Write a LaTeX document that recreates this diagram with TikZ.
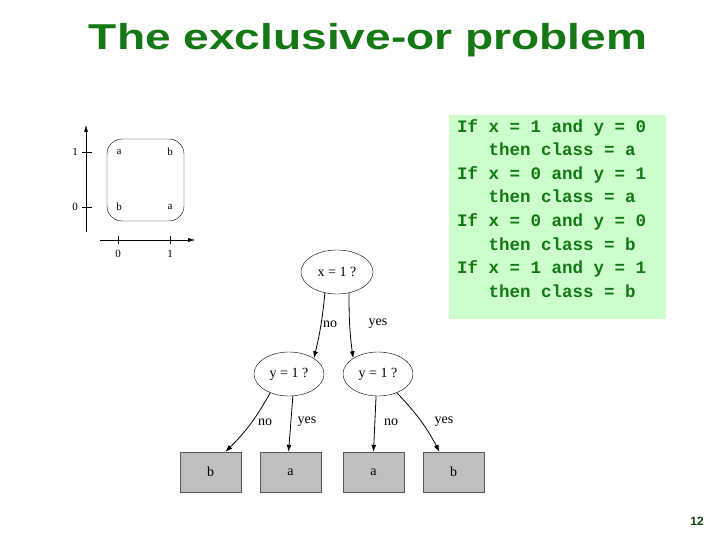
\documentclass[tikz,border=0pt]{standalone}
\usepackage{fontspec}
\setmainfont{Liberation Serif}
\newfontfamily\titlefont{Liberation Sans}
\newfontfamily\codefont{Liberation Mono}
\usetikzlibrary{shapes.geometric,arrows.meta}
\definecolor{tgreen}{RGB}{20,120,20}
\definecolor{boxgreen}{RGB}{204,255,204}
\begin{document}
\begin{tikzpicture}[x=1pt,y=-1pt,
  q/.style={draw,ellipse,minimum width=72pt,minimum height=44pt,inner sep=0pt,font=\fontsize{14}{14}\selectfont},
  leaf/.style={draw=gray!70!black,fill=gray!50,minimum width=61pt,minimum height=40pt,inner sep=0pt,font=\fontsize{14}{14}\selectfont},
  lab/.style={font=\fontsize{14}{14}\selectfont},
  sm/.style={font=\fontsize{11}{11}\selectfont},
  arr/.style={-{Latex[length=7pt,width=5pt]},thick}]
\useasboundingbox (0,0) rectangle (720,540);
\node[font=\titlefont\bfseries\fontsize{36}{36}\selectfont,text=tgreen,xscale=1.28] (title) at (368,40) {The exclusive-or problem};
% rules box
\node[fill=boxgreen,minimum width=217pt,minimum height=204pt,inner sep=0pt] (rules) at (557.5,217) {};
\node[anchor=north west,align=left,text=tgreen,font=\codefont\bfseries\fontsize{17.5}{23.6}\selectfont,inner sep=0pt] (rtext) at (457,119) {If x = 1 and y = 0\\\ \ \ then class = a\\If x = 0 and y = 1\\\ \ \ then class = a\\If x = 0 and y = 0\\\ \ \ then class = b\\If x = 1 and y = 1\\\ \ \ then class = b};
% small plot
\coordinate (ya) at (86,232); \coordinate (yb) at (86,125);
\coordinate (xa) at (100,240); \coordinate (xb) at (195,240);
\draw[-{Latex[length=7pt,width=4pt]}] (ya) -- (yb);
\draw[-{Latex[length=7pt,width=4pt]}] (xa) -- (xb);
\draw (82,152) -- (92,152) (82,207) -- (92,207) (118,236) -- (118,244) (170,236) -- (170,244);
\node[sm] (l1) at (75,152) {1}; \node[sm] (l0) at (75,207) {0};
\node[sm] (m0) at (118,254) {0}; \node[sm] (m1) at (170,254) {1};
\draw[rounded corners=15pt] (107,139) rectangle (184,221);
\node[sm] (p1) at (119,152) {a}; \node[sm] (p2) at (170,152) {b};
\node[sm] (p3) at (119,207) {b}; \node[sm] (p4) at (170,207) {a};
% tree
\node[q] (r) at (337,272) {x = 1 ?};
\node[q,minimum width=70pt] (l) at (289,374) {y = 1 ?};
\node[q,minimum width=70pt] (rr) at (378,374) {y = 1 ?};
\node[leaf] (b1) at (210.5,472) {b};
\node[leaf] (a1) at (290.5,472) {a};
\node[leaf] (a2) at (373.5,472) {a};
\node[leaf] (b2) at (453.5,472) {b};
\draw[arr] (r.240) to[bend left=4] (l.north east);
\draw[arr] (r.300) to[bend right=4] (rr.north west);
\draw[arr] (l.225) to[bend left=8] ([xshift=15pt]b1.north);
\draw[arr] (l.280) -- ([xshift=-2pt]a1.north);
\draw[arr] (rr.265) -- (a2.north);
\draw[arr] (rr.315) to[bend left=8] ([xshift=-14pt]b2.north);
\node[lab] (n1) at (330,324) {no}; \node[lab] (y1) at (378,324) {yes};
\node[lab] (n2) at (265,422) {no}; \node[lab] (y2) at (307,422) {yes};
\node[lab] (n3) at (391,422) {no}; \node[lab] (y3) at (444,422) {yes};
\node[font=\titlefont\bfseries\fontsize{12}{12}\selectfont,text=tgreen!60!black] (pg) at (697,521) {12};
\end{tikzpicture}
\end{document}
